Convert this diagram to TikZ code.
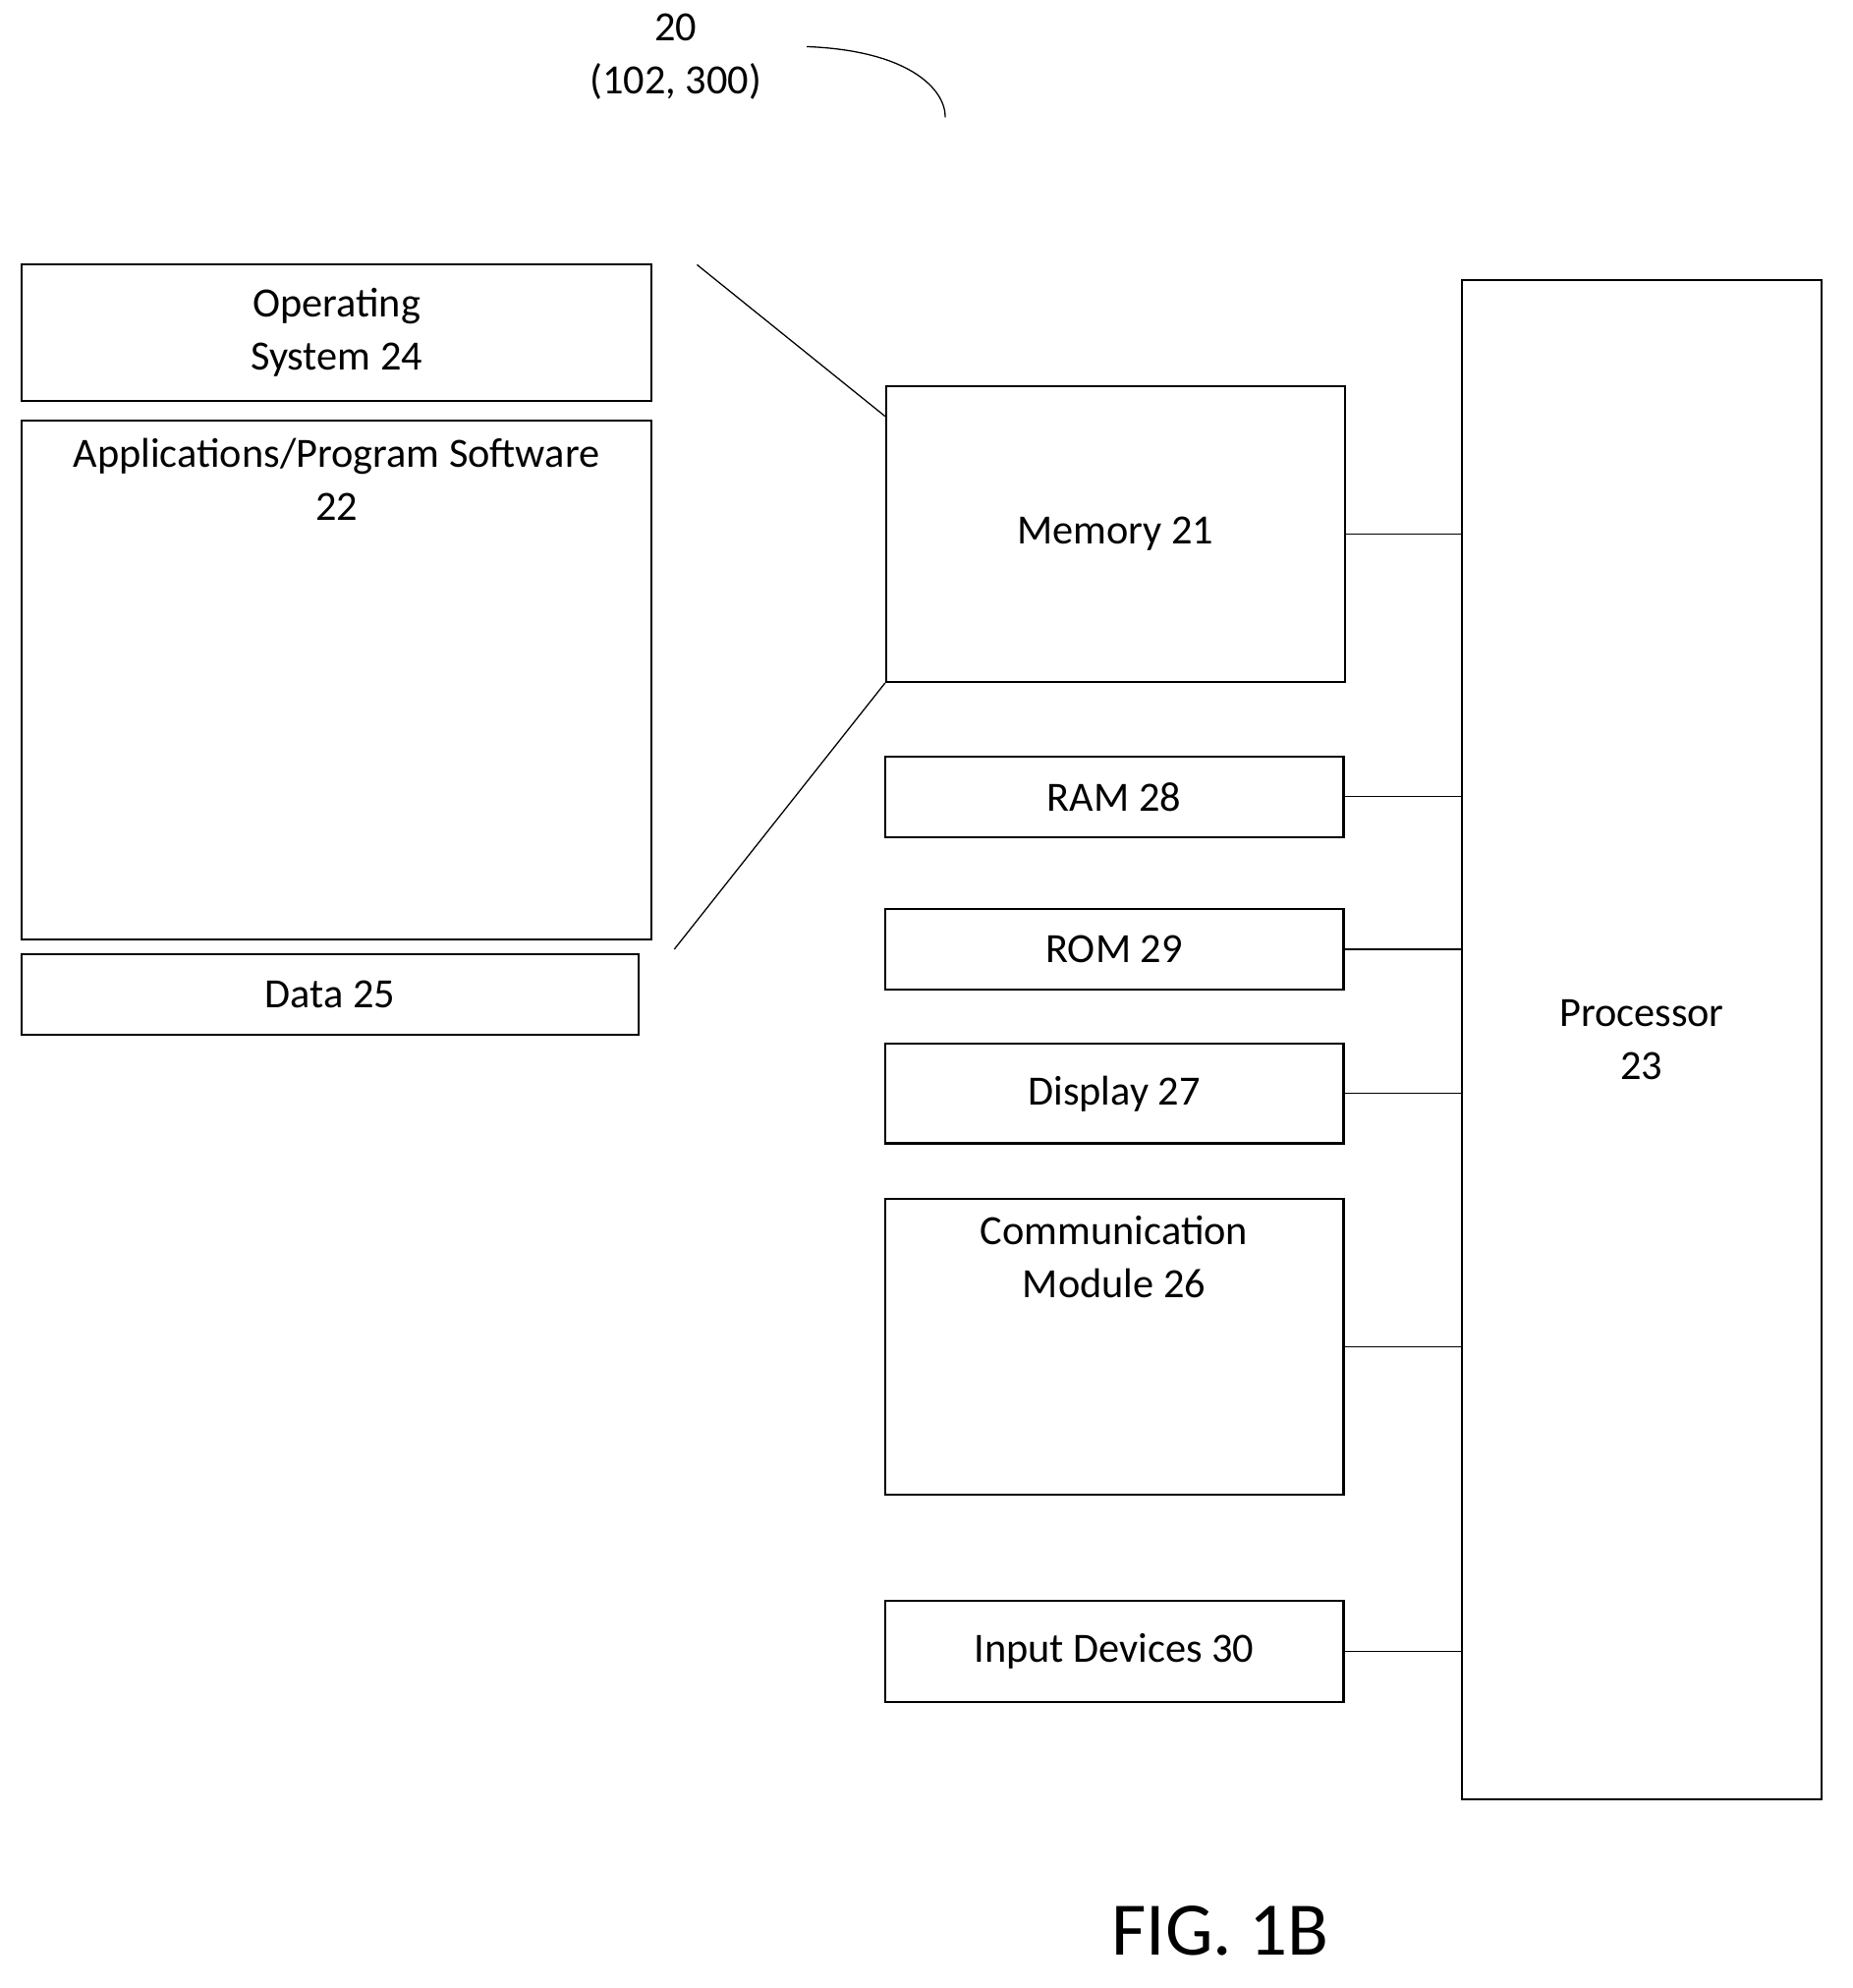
\documentclass[tikz,border=0pt]{standalone}
\usepackage{fontspec}
\setmainfont{Carlito}
\begin{document}
\begin{tikzpicture}[x=0.5pt,y=-0.5pt,
  box/.style={draw,line width=0.8pt,inner sep=0pt,align=center,font=\fontsize{16.5}{21}\selectfont},
  tlab/.style={anchor=north,align=center,font=\fontsize{16.5}{21}\selectfont,inner sep=0pt},
  conn/.style={line width=0.5pt}]
\useasboundingbox (0,0) rectangle (1470,1577);
\node[box,minimum width=250pt,minimum height=54pt] (os) at (267,264) {Operating\\System 24};
\node[box,minimum width=250pt,minimum height=205.5pt] (apps) at (267,539.5) {};
\node[tlab] (appst) at ([yshift=-7pt]apps.north) {Applications/Program Software\\22};
\node[box,minimum width=245pt,minimum height=32pt] (data) at (262,789) {Data 25};
\node[box,minimum width=182pt,minimum height=117.5pt] (mem) at (885,423.5) {Memory 21};
\node[box,minimum width=182pt,minimum height=32pt] (ram) at (884,632) {RAM 28};
\node[box,minimum width=182pt,minimum height=32pt] (rom) at (884,753) {ROM 29};
\node[box,minimum width=182pt,minimum height=39.5pt] (disp) at (884,867.5) {Display 27};
\node[box,minimum width=182pt,minimum height=117.5pt] (comm) at (884,1068.5) {};
\node[tlab] (commt) at ([yshift=-7pt]comm.north) {Communication\\Module 26};
\node[box,minimum width=182pt,minimum height=40pt] (inp) at (884,1310) {Input Devices 30};
\node[box,minimum width=142.5pt,minimum height=602.5pt] (proc) at (1302.5,824.5) {Processor\\23};
\foreach \n in {mem,ram,rom,disp,comm,inp}{\draw[conn] (\n.east) -- (\n.east -| proc.west);}
\coordinate (a) at (553,210);
\coordinate (b) at (535,753);
\draw[conn] (a) -- ([yshift=-12.5pt]mem.north west);
\draw[conn] (b) -- (mem.south west);
\node[tlab,anchor=center] (ref) at (536,45) {20\\(102, 300)};
\coordinate (c1) at (640,37);
\coordinate (c2) at (750,93);
\draw[conn] (c1) .. controls (720,40) and (750,70) .. (c2);
\node[font=\fontsize{30}{36}\selectfont,inner sep=0pt] (fig) at (968,1532) {FIG. 1B};
\end{tikzpicture}
\end{document}
